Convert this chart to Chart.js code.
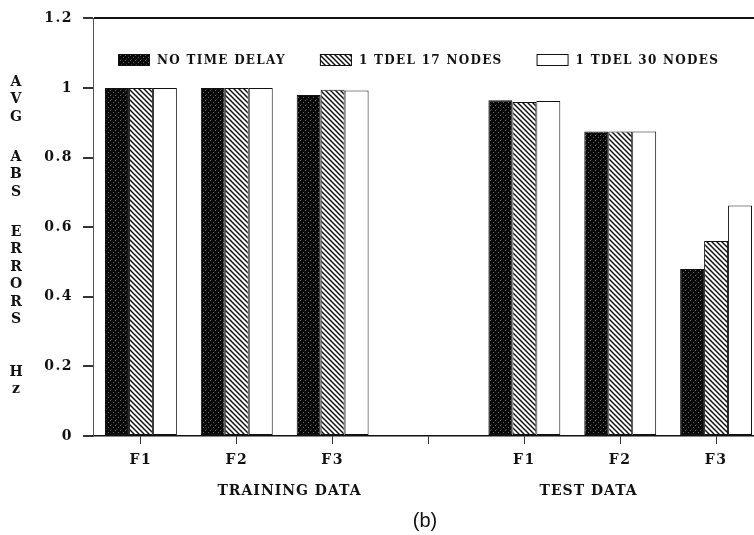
<!DOCTYPE html>
<html>
<head>
<meta charset="utf-8">
<script src="https://cdn.jsdelivr.net/npm/chart.js@4.4.0/dist/chart.umd.min.js"></script>
<style>
  html, body { margin: 0; padding: 0; background: #fff; overflow: hidden; }
  #wrap { position: relative; width: 754px; height: 535px; overflow: hidden; }
  #wrap canvas { position: absolute; left: 0; top: 0; }
  #panel {
    position: absolute; left: 405px; top: 509px; width: 40px; text-align: center;
    font: 20px "Liberation Sans", Arial, sans-serif; color: #111;
  }
</style>
</head>
<body>
<div id="wrap">
  <canvas id="errChart" width="770" height="535"></canvas>
  <div id="panel">(b)</div>
</div>
<script>
// categories: three training features, a spacer, three test features
const categories = ['F1', 'F2', 'F3', '', 'F1', 'F2', 'F3'];
const seriesNames = ['NO TIME DELAY', '1 TDEL 17 NODES', '1 TDEL 30 NODES'];
const noDelay = [1.0, 1.0, 0.98, null, 0.965, 0.875, 0.48];
const tdel17  = [1.0, 1.0, 0.995, null, 0.96, 0.875, 0.56];
const tdel30  = [1.0, 1.0, 0.993, null, 0.963, 0.875, 0.662];
const yTicks = [0, 0.2, 0.4, 0.6, 0.8, 1, 1.2];
const yTitleWords = ['AVG', 'ABS', 'ERRORS', 'Hz'];
const groupTitles = ['TRAINING DATA', 'TEST DATA'];

const SERIF = '"DejaVu Serif", "Liberation Serif", serif';
const INK = '#111';

// stippled dark fill
function dotPattern() {
    const c = document.createElement('canvas');
    c.width = 5; c.height = 5;
    const g = c.getContext('2d');
    g.fillStyle = '#080808';
    g.fillRect(0, 0, 5, 5);
    g.fillStyle = '#6a6a6a';
    g.fillRect(0, 0, 1, 1);
    g.fillRect(3, 2, 1, 1);
    g.fillStyle = '#333';
    g.fillRect(1, 4, 1, 1);
    return g.createPattern(c, 'repeat');
}

// diagonal "\" hatching
function hatchPattern() {
    const s = 5;
    const c = document.createElement('canvas');
    c.width = s; c.height = s;
    const g = c.getContext('2d');
    g.fillStyle = '#fff';
    g.fillRect(0, 0, s, s);
    g.strokeStyle = '#111';
    g.lineWidth = 1.5;
    for (const k of [-s, 0, s]) {
        g.beginPath();
        g.moveTo(k - 1, -1);
        g.lineTo(k + s + 1, s + 1);
        g.stroke();
    }
    return g.createPattern(c, 'repeat');
}

const fills = [dotPattern(), hatchPattern(), '#fff'];
const values = [noDelay, tdel17, tdel30];

// wide typewriter-ish spacing for the axis text
const spacing = {
    id: 'spacing',
    beforeDraw(chart) { chart.ctx.letterSpacing = '1.5px'; }
};

// legend boxes sitting inside the plot, under the top frame line
const boxLegend = {
    id: 'boxLegend',
    afterDraw(chart) {
        const ctx = chart.ctx;
        const area = chart.chartArea;
        ctx.save();
        ctx.letterSpacing = '1.3px';
        ctx.font = 'bold 12px ' + SERIF;
        ctx.textBaseline = 'middle';
        let x = area.left + 25;
        const y = 54;
        chart.data.datasets.forEach(ds => {
            ctx.fillStyle = ds.backgroundColor;
            ctx.fillRect(x, y, 32, 12);
            ctx.strokeStyle = INK;
            ctx.lineWidth = 1;
            ctx.strokeRect(x + 0.5, y + 0.5, 31, 11);
            ctx.fillStyle = INK;
            ctx.fillText(ds.label, x + 39, y + 7);
            x += 39 + ctx.measureText(ds.label).width + 34;
        });
        ctx.restore();
    }
};

// stacked-letter y title and the two group captions under the x axis
const captions = {
    id: 'captions',
    afterDraw(chart) {
        const ctx = chart.ctx;
        ctx.save();
        ctx.letterSpacing = '0px';
        ctx.fillStyle = INK;
        ctx.textAlign = 'center';
        ctx.textBaseline = 'middle';
        ctx.font = 'bold 14px ' + SERIF;
        const wordTops = [82, 157, 232, 372];
        yTitleWords.forEach((w, i) => {
            [...w].forEach((ch, j) => ctx.fillText(ch, 16, wordTops[i] + j * 17.5));
        });

        const xs = chart.scales.x;
        ctx.letterSpacing = '1px';
        ctx.font = 'bold 14px ' + SERIF;
        const at = [1.55, 4.67];
        groupTitles.forEach((t, i) => ctx.fillText(t, xs.getPixelForValue(at[i]), 491));
        ctx.restore();
    }
};

new Chart(document.getElementById('errChart'), {
    type: 'bar',
    data: {
        labels: categories,
        datasets: seriesNames.map((name, i) => ({
            label: name,
            data: values[i],
            backgroundColor: fills[i],
            borderColor: INK,
            borderWidth: 1,
            borderSkipped: false,
            barPercentage: 1.0,
            categoryPercentage: 0.75
        }))
    },
    options: {
        responsive: false,
        animation: false,
        events: [],
        layout: { padding: { top: 18, right: 6, bottom: 0, left: 0 } },
        plugins: {
            legend: { display: false },
            tooltip: { enabled: false }
        },
        scales: {
            x: {
                afterFit: s => { s.height = 99; },
                grid: {
                    offset: false,
                    drawOnChartArea: false,
                    tickLength: 8,
                    tickColor: '#333'
                },
                border: { color: INK, width: 1.5 },
                ticks: {
                    color: INK,
                    font: { family: SERIF, size: 14, weight: 'bold' },
                    padding: 8,
                    autoSkip: false,
                    maxRotation: 0
                }
            },
            y: {
                min: 0,
                max: 1.2,
                afterFit: s => { s.width = 93; },
                afterBuildTicks: s => { s.ticks = yTicks.map(v => ({ value: v })); },
                grid: {
                    drawOnChartArea: true,
                    color: c => (c.tick && c.tick.value === 1.2) ? INK : 'rgba(0,0,0,0)',
                    lineWidth: 2,
                    tickLength: 10,
                    tickColor: '#333'
                },
                border: { color: '#555', width: 1 },
                ticks: {
                    color: INK,
                    font: { family: SERIF, size: 14, weight: 'bold' },
                    padding: 10,
                    callback: v => String(Number(v.toFixed(1)))
                }
            }
        }
    },
    plugins: [spacing, boxLegend, captions]
});
</script>
</body>
</html>
